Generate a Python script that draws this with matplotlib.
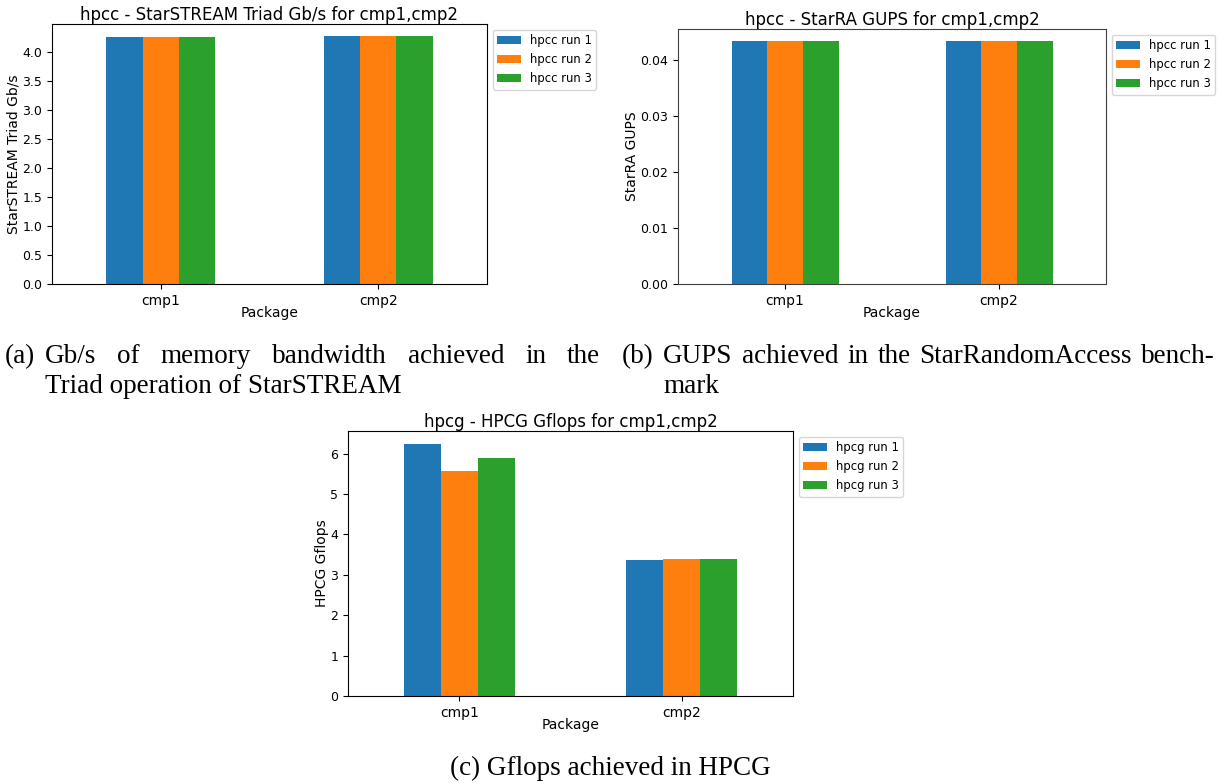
import matplotlib
matplotlib.use('Agg')
import matplotlib.pyplot as plt
import numpy as np

# Daten
packages = ['cmp1', 'cmp2']
run_names = ['run 1', 'run 2', 'run 3']
colors = ['#1f77b4', '#ff7f0e', '#2ca02c']

# StarSTREAM Triad Gb/s, eine Liste pro Run (cmp1, cmp2)
triad_run1 = [4.26, 4.27]
triad_run2 = [4.26, 4.27]
triad_run3 = [4.26, 4.27]

# StarRA GUPS
gups_run1 = [0.0433, 0.0433]
gups_run2 = [0.0433, 0.0433]
gups_run3 = [0.0433, 0.0433]

# HPCG Gflops
hpcg_run1 = [6.25, 3.38]
hpcg_run2 = [5.58, 3.39]
hpcg_run3 = [5.90, 3.39]

W, H = 1220, 783
fig = plt.figure(figsize=(W / 100, H / 100), dpi=100)


def px_axes(left, top, right, bottom):
    return fig.add_axes([left / W, 1 - bottom / H, (right - left) / W, (bottom - top) / H])


def bar_chart(ax, series, prefix, title, ylabel, spine_color='black'):
    x = np.arange(len(packages))
    w = 0.5 / len(series)
    for i, vals in enumerate(series):
        ax.bar(x + (i - 1) * w, vals, width=w, color=colors[i],
               label=f'{prefix} {run_names[i]}')
    ax.set_xlim(-0.5, len(packages) - 0.5)
    ax.set_xticks(x)
    ax.set_xticklabels(packages)
    ax.set_xlabel('Package', fontsize=10, labelpad=-1.5)
    ax.set_ylabel(ylabel, fontsize=10, labelpad=1)
    ax.set_title(title, fontsize=12, pad=2)
    ax.tick_params(axis='x', labelsize=10)
    ax.tick_params(axis='y', labelsize=9)
    for s in ax.spines.values():
        s.set_color(spine_color)
    ax.legend(loc='upper left', bbox_to_anchor=(1, 1), fontsize='small')


ax1 = px_axes(52, 24, 487, 284)
bar_chart(ax1, [triad_run1, triad_run2, triad_run3], 'hpcc',
          'hpcc - StarSTREAM Triad Gb/s for cmp1,cmp2', 'StarSTREAM Triad Gb/s')

ax2 = px_axes(678, 29, 1106, 284)
bar_chart(ax2, [gups_run1, gups_run2, gups_run3], 'hpcc',
          'hpcc - StarRA GUPS for cmp1,cmp2', 'StarRA GUPS', spine_color='#404040')

ax3 = px_axes(348, 431, 793, 696)
bar_chart(ax3, [hpcg_run1, hpcg_run2, hpcg_run3], 'hpcg',
          'hpcg - HPCG Gflops for cmp1,cmp2', 'HPCG Gflops')

# Bildunterschriften
cap_font = dict(family='Liberation Serif', fontsize=19.5, va='baseline')
renderer = fig.canvas.get_renderer()


def justified(words, x0, x1, y):
    texts = [fig.text(0, 1 - y / H, wd, **cap_font) for wd in words]
    widths = [t.get_window_extent(renderer).width for t in texts]
    gap = max((x1 - x0 - sum(widths)) / (len(words) - 1), 3)
    x = x0
    for t, wd in zip(texts, widths):
        t.set_x(x / W)
        x += wd + gap


fig.text(5 / W, 1 - 363 / H, '(a)', **cap_font)
justified('Gb/s of memory bandwidth achieved in the'.split(), 45, 600, 363)
fig.text(45 / W, 1 - 393 / H, 'Triad operation of StarSTREAM', **cap_font)

fig.text(622 / W, 1 - 363 / H, '(b)', **cap_font)
justified('GUPS achieved in the StarRandomAccess bench-'.split(), 663, 1215, 363)
fig.text(663 / W, 1 - 393 / H, 'mark', **cap_font)

fig.text(610 / W, 1 - 775 / H, '(c) Gflops achieved in HPCG', ha='center', **cap_font)

fig.savefig('out.png', dpi=100)
